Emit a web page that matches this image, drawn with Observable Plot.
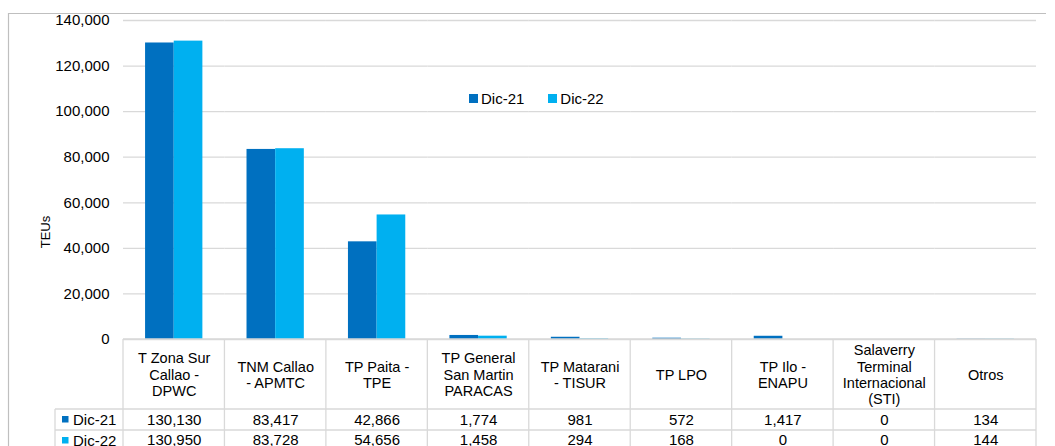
<!DOCTYPE html>
<html>
<head>
<meta charset="utf-8">
<script src="https://cdn.jsdelivr.net/npm/d3@7"></script>
<script src="https://cdn.jsdelivr.net/npm/@observablehq/plot@0.6"></script>
<style>
  html, body { margin: 0; padding: 0; background: #fff; }
  #wrap { position: relative; width: 1055px; height: 446px; overflow: hidden; font-family: "Liberation Sans", Arial, sans-serif; }
  #legend { position: absolute; left: 469px; top: 82px; }
  #legend div > span { margin-right: 1.6em !important; }
  #legend div > span > svg { margin-right: 3px !important; }
</style>
</head>
<body>
<div id="wrap"></div>
<script>
const terminals = [
  "T Zona Sur Callao - DPWC",
  "TNM Callao - APMTC",
  "TP Paita - TPE",
  "TP General San Martin PARACAS",
  "TP Matarani - TISUR",
  "TP LPO",
  "TP Ilo - ENAPU",
  "Salaverry Terminal Internacional (STI)",
  "Otros"
];
const headerLabels = [
  "T Zona Sur\nCallao -\nDPWC",
  "TNM Callao\n- APMTC",
  "TP Paita -\nTPE",
  "TP General\nSan Martin\nPARACAS",
  "TP Matarani\n- TISUR",
  "TP LPO",
  "TP Ilo -\nENAPU",
  "Salaverry\nTerminal\nInternacional\n(STI)",
  "Otros"
];
const series = ["Dic-21", "Dic-22"];
const dic21 = [130130, 83417, 42866, 1774, 981, 572, 1417, 0, 134];
const dic22 = [130950, 83728, 54656, 1458, 294, 168, 0, 0, 144];
const colors = ["#0070C0", "#00B0F0"];
const yTicks = [0, 20000, 40000, 60000, 80000, 100000, 120000, 140000];

const data = [];
terminals.forEach((t, i) => {
  data.push({terminal: t, series: series[0], value: dic21[i]});
  data.push({terminal: t, series: series[1], value: dic22[i]});
});
const fmt = d3.format(",");
const font = "Liberation Sans, Arial, sans-serif";
const grayLine = "#d9d9d9";

const chart = Plot.plot({
  width: 1055,
  height: 446,
  marginTop: 20,
  marginBottom: 107,
  marginLeft: 123,
  marginRight: 19,
  style: {fontFamily: font, fontSize: "15px", color: "#000", background: "transparent", overflow: "visible"},
  fx: {domain: terminals, padding: 0, axis: null, label: null, round: false},
  x: {domain: series, paddingInner: 0, paddingOuter: 0.77, axis: null, round: false},
  y: {domain: [0, 140000], ticks: yTicks, tickFormat: fmt, tickSize: 0, tickPadding: 14, label: null},
  color: {domain: series, range: colors},
  marks: [
    Plot.gridY(yTicks, {stroke: grayLine, strokeOpacity: 1, strokeWidth: 1.3}),
    Plot.barY(data, {fx: "terminal", x: "series", y: "value", fill: "series"}),
    Plot.text(terminals, {fx: d => d, text: (d, i) => headerLabels[i], frameAnchor: "bottom", dy: 35, lineAnchor: "middle", lineHeight: 1.12, fontSize: 14.5, fill: "#000"}),
    Plot.text(terminals, {fx: d => d, text: (d, i) => fmt(dic21[i]), frameAnchor: "bottom", dy: 80.5, lineAnchor: "middle", fontSize: 15, fill: "#000"}),
    Plot.text(terminals, {fx: d => d, text: (d, i) => fmt(dic22[i]), frameAnchor: "bottom", dy: 100.5, lineAnchor: "middle", fontSize: 15, fill: "#000"})
  ]
});

const wrap = document.getElementById("wrap");
wrap.appendChild(chart);

// table lines and row labels drawn with the plot's own scales
const svg = d3.select(chart);
const fx = chart.scale("fx");
const y = chart.scale("y");
const y0 = y.apply(0);
const left0 = fx.apply(terminals[0]);
const right0 = fx.apply(terminals[terminals.length - 1]) + fx.bandwidth;
const row1 = y0 + 70, row2 = y0 + 91, row3 = y0 + 112;
const labelLeft = 55;
const g = svg.append("g").attr("stroke", grayLine).attr("stroke-width", 1.3);
g.append("line").attr("x1", left0).attr("x2", right0).attr("y1", y0).attr("y2", y0);
[row1, row2, row3].forEach(r => g.append("line").attr("x1", labelLeft).attr("x2", right0).attr("y1", r).attr("y2", r));
terminals.forEach(t => {
  const xl = fx.apply(t);
  g.append("line").attr("x1", xl).attr("x2", xl).attr("y1", y0).attr("y2", row3);
});
g.append("line").attr("x1", right0).attr("x2", right0).attr("y1", y0).attr("y2", row3);
g.append("line").attr("x1", labelLeft).attr("x2", labelLeft).attr("y1", row1).attr("y2", row3);

series.forEach((s, i) => {
  const cy = (i === 0 ? (row1 + row2) / 2 : (row2 + row3) / 2);
  svg.append("rect").attr("x", 62).attr("y", cy - 3.5).attr("width", 6.5).attr("height", 6.5).attr("fill", colors[i]);
  svg.append("text").attr("x", 73).attr("y", cy).attr("dy", "0.36em").attr("text-anchor", "start").attr("font-size", 15).attr("font-family", font).attr("fill", "#000").text(s);
});

// Y axis title
svg.append("text")
  .attr("transform", "translate(50,232) rotate(-90)")
  .attr("text-anchor", "middle").attr("font-size", 13).attr("font-family", font).attr("fill", "#000").text("TEUs");

// outer chart border
svg.insert("path", ":first-child").attr("d", "M8.5,460V13.5H1046").attr("fill", "none").attr("stroke", "#bfbfbf").attr("stroke-width", 1.2);

// legend
const legend = chart.legend("color", {swatchWidth: 9, swatchHeight: 9, style: {fontFamily: font, fontSize: "15px", color: "#000"}});
const lw = document.createElement("div");
lw.id = "legend";
lw.appendChild(legend);
wrap.appendChild(lw);
</script>
</body>
</html>
